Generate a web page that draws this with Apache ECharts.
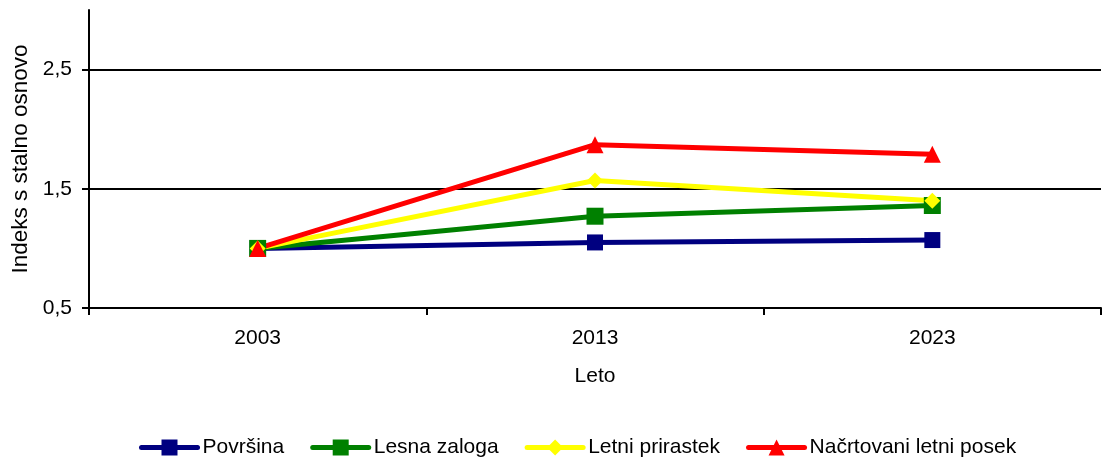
<!DOCTYPE html>
<html>
<head>
<meta charset="utf-8">
<script src="https://cdn.jsdelivr.net/npm/echarts@6/dist/echarts.min.js"></script>
<style>
  html, body { margin: 0; padding: 0; background: #fff; }
  #chart { width: 1102px; height: 461px; }
</style>
</head>
<body>
<div id="chart"></div>
<script>
// Index values (base 2003 = 1) by year
const years = ['2003', '2013', '2023'];
const povrsina = [1.0, 1.05, 1.07];
const lesnaZaloga = [1.0, 1.27, 1.36];
const letniPrirastek = [1.0, 1.57, 1.40];
const nacrtovaniPosek = [1.0, 1.87, 1.79];
// Labelled values on the index axis
const yTicks = [0.5, 1.5, 2.5];

const FONT = '"Liberation Sans", Arial, sans-serif';

function lineSeries(name, data, color, symbol, size) {
  return {
    name: name,
    type: 'line',
    data: data,
    symbol: symbol,
    symbolSize: size,
    showAllSymbol: true,
    lineStyle: { color: color, width: 5 },
    itemStyle: { color: color, borderWidth: 0 },
    emphasis: { disabled: true },
    animation: false
  };
}

const chart = echarts.init(document.getElementById('chart'), null, { renderer: 'canvas' });
chart.setOption({
  backgroundColor: '#ffffff',
  animation: false,
  grid: { left: 89, right: 1, top: 10, bottom: 153, containLabel: false },
  legend: {
    top: 432,
    left: 134,
    itemWidth: 56,
    itemHeight: 20,
    itemGap: 26,
    lineStyle: { width: 5, cap: 'round' },
    textStyle: { fontFamily: FONT, fontSize: 21, color: '#000' },
    data: ['Površina', 'Lesna zaloga', 'Letni prirastek', 'Načrtovani letni posek']
  },
  xAxis: {
    type: 'category',
    data: years,
    boundaryGap: true,
    name: 'Leto',
    nameLocation: 'middle',
    nameGap: 58,
    nameTextStyle: { fontFamily: FONT, fontSize: 21, color: '#000' },
    axisLine: { lineStyle: { color: '#000', width: 2 } },
    axisTick: { show: true, length: 7, lineStyle: { color: '#000', width: 2 } },
    axisLabel: { fontFamily: FONT, fontSize: 21, color: '#000', margin: 20 },
    splitLine: { show: false }
  },
  yAxis: {
    type: 'value',
    min: 0.5,
    max: 3,
    interval: 1,
    name: 'Indeks s stalno osnovo',
    nameLocation: 'middle',
    nameGap: 56,
    nameTextStyle: { fontFamily: FONT, fontSize: 22.5, color: '#000' },
    axisLine: { show: true, lineStyle: { color: '#000', width: 2 } },
    axisTick: { show: true, length: 7, customValues: yTicks, lineStyle: { color: '#000', width: 2 } },
    axisLabel: {
      fontFamily: FONT, fontSize: 21, color: '#000', margin: 17,
      customValues: yTicks,
      formatter: v => v.toFixed(1).replace('.', ',')
    },
    splitLine: { show: true, showMinLine: false, lineStyle: { color: '#000', width: 2 } }
  },
  series: [
    lineSeries('Površina', povrsina, '#000080', 'rect', 16),
    lineSeries('Lesna zaloga', lesnaZaloga, '#008000', 'rect', 17),
    lineSeries('Letni prirastek', letniPrirastek, '#FFFF00', 'diamond', 16),
    lineSeries('Načrtovani letni posek', nacrtovaniPosek, '#FF0000', 'triangle', 17)
  ]
});
</script>
</body>
</html>
